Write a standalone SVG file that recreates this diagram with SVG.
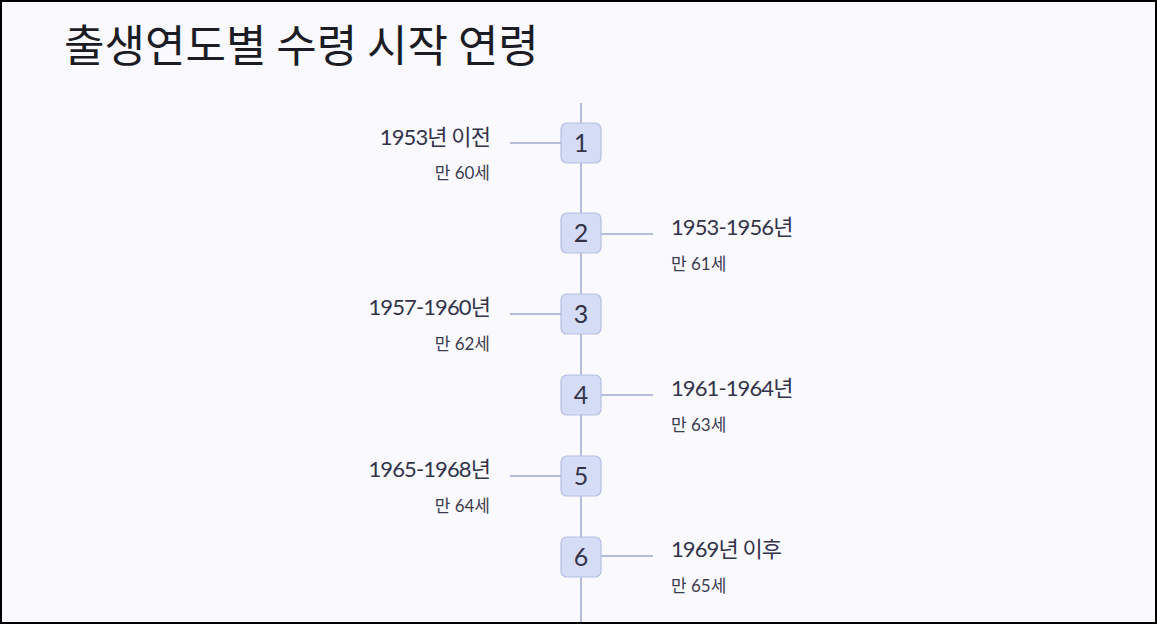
<svg xmlns="http://www.w3.org/2000/svg" width="1157" height="624" viewBox="0 0 1157 624">
<style>
.title{font-family:"Noto Sans CJK KR","Noto Sans",sans-serif;font-size:44px;fill:#1c1c24}
.main{font-family:Lato,"Noto Sans CJK KR",sans-serif;font-size:22px;fill:#33334a;letter-spacing:-0.9px}
.sub{font-family:Lato,"Noto Sans CJK KR",sans-serif;font-size:17px;fill:#3c3c50}
.num{font-family:Lato,"Noto Sans CJK KR",sans-serif;font-size:25px;fill:#33334a;text-anchor:middle}
.box{fill:#d5dcf6;stroke:#b6bfe2;stroke-width:1.2}
.ln{stroke:#b5bddd;stroke-width:2;fill:none}
</style>
<rect x="0" y="0" width="1157" height="624" fill="#f9f9fe"/>
<text class="title" x="64" y="62">출생연도별 수령 시작 연령</text>
<g id="connectors">
<line class="ln" x1="581" y1="103" x2="581" y2="624"/>
<line class="ln" x1="510" y1="143" x2="561" y2="143"/>
<line class="ln" x1="601" y1="234" x2="653" y2="234"/>
<line class="ln" x1="510" y1="314" x2="561" y2="314"/>
<line class="ln" x1="601" y1="395" x2="653" y2="395"/>
<line class="ln" x1="510" y1="476" x2="561" y2="476"/>
<line class="ln" x1="601" y1="556" x2="653" y2="556"/>
</g>
<g id="node1"><rect class="box" x="561" y="123" width="40" height="40" rx="6"/><text class="num" x="581" y="152">1</text>
<text class="main" x="490" y="145" text-anchor="end">1953년 이전</text><text class="sub" x="490" y="179" text-anchor="end">만 60세</text></g>
<g id="node2"><rect class="box" x="561" y="213" width="40" height="40" rx="6"/><text class="num" x="581" y="242">2</text>
<text class="main" x="671" y="235">1953-1956년</text><text class="sub" x="671" y="270">만 61세</text></g>
<g id="node3"><rect class="box" x="561" y="294" width="40" height="40" rx="6"/><text class="num" x="581" y="323">3</text>
<text class="main" x="490" y="315" text-anchor="end">1957-1960년</text><text class="sub" x="490" y="350" text-anchor="end">만 62세</text></g>
<g id="node4"><rect class="box" x="561" y="375" width="40" height="40" rx="6"/><text class="num" x="581" y="404">4</text>
<text class="main" x="671" y="396">1961-1964년</text><text class="sub" x="671" y="431">만 63세</text></g>
<g id="node5"><rect class="box" x="561" y="456" width="40" height="40" rx="6"/><text class="num" x="581" y="485">5</text>
<text class="main" x="490" y="477" text-anchor="end">1965-1968년</text><text class="sub" x="490" y="512" text-anchor="end">만 64세</text></g>
<g id="node6"><rect class="box" x="561" y="537" width="40" height="40" rx="6"/><text class="num" x="581" y="566">6</text>
<text class="main" x="671" y="557">1969년 이후</text><text class="sub" x="671" y="592">만 65세</text></g>
<rect x="1" y="1" width="1155" height="622" fill="none" stroke="#000" stroke-width="2"/>
</svg>
